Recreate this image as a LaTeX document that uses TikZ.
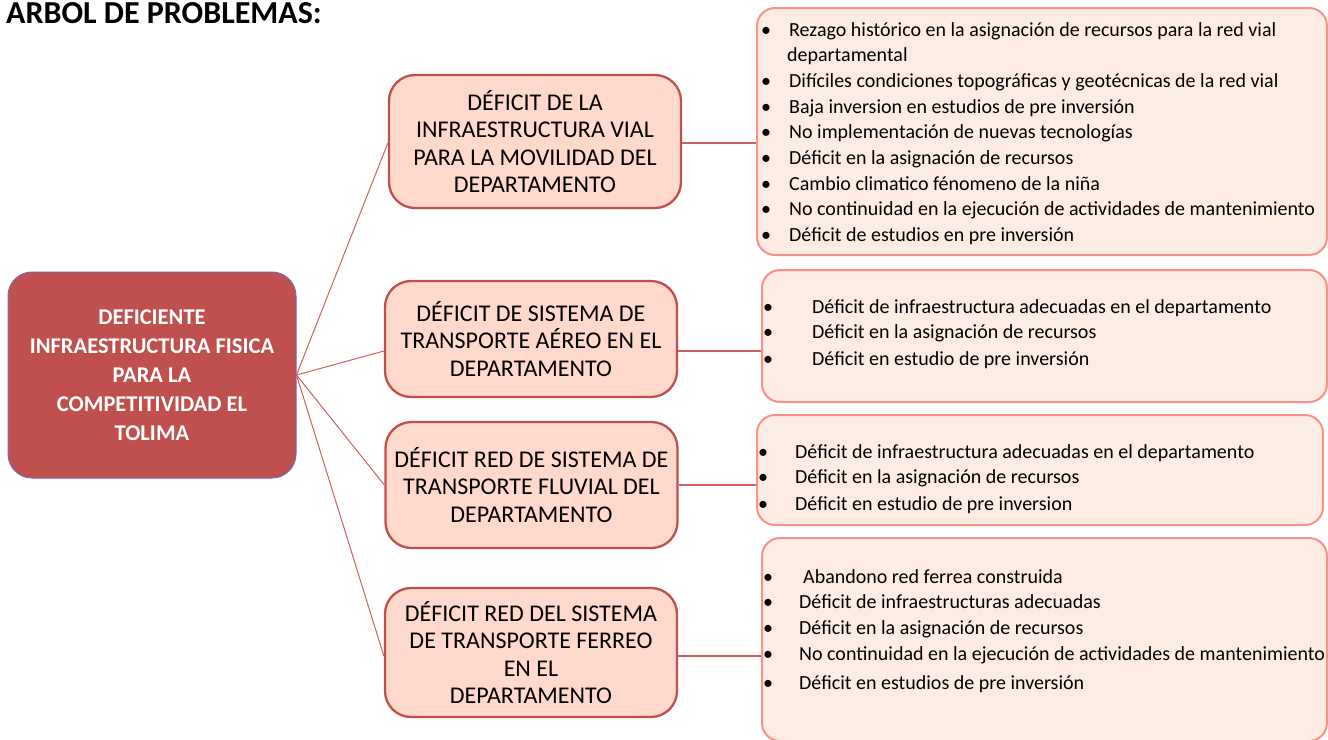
\documentclass[tikz,border=0pt]{standalone}
\usepackage{fontspec}
\setmainfont{Carlito}
\usetikzlibrary{positioning}

\definecolor{rootred}{HTML}{C0504D}
\definecolor{rootedge}{HTML}{7F6AB0}
\definecolor{midfill}{HTML}{FFD9CC}
\definecolor{linkred}{HTML}{D0605E}
\definecolor{causefill}{HTML}{FDECE4}
\definecolor{causeedge}{HTML}{FA918A}

% bullet with a gap of given width
\newcommand{\bul}[2][28pt]{\makebox[#1][l]{\textbullet}#2}

\begin{document}
\begin{tikzpicture}[
  x=1pt, y=-1pt,
  root/.style={rectangle, draw=rootedge, line width=1pt, fill=rootred, rounded corners=24pt,
    minimum width=288pt, minimum height=206pt, align=center, text=white,
    font=\fontsize{22.5}{29}\selectfont\bfseries},
  midbox/.style={rectangle, draw=rootred, line width=2.3pt, fill=midfill, rounded corners=26pt,
    minimum width=292pt, align=center, inner sep=2pt, font=\fontsize{24}{27.5}\selectfont},
  causebox/.style={rectangle, draw=causeedge, line width=2pt, fill=causefill, rounded corners=18pt},
  causelist/.style={align=left, inner sep=0pt, anchor=north west,
    font=\fontsize{20}{25.7}\selectfont},
  fan/.style={draw=linkred, line width=1pt},
  link/.style={draw=linkred, line width=1.4pt}
]
\useasboundingbox (0,0) rectangle (1328,739);

\node[anchor=base west, inner sep=0pt, font=\fontsize{32}{36}\selectfont\bfseries] (title) at (6,23) {ARBOL DE PROBLEMAS:};

% main problem
\node[root] (root) at (152,375) {DEFICIENTE\\INFRAESTRUCTURA FISICA\\PARA LA\\COMPETITIVIDAD EL\\TOLIMA};

% direct causes
\node[midbox, minimum height=133pt] (vial) at (535,141.5) {DÉFICIT DE LA\\INFRAESTRUCTURA VIAL\\PARA LA MOVILIDAD DEL\\DEPARTAMENTO};
\node[midbox, minimum height=116pt] (aereo) at (531,339) {DÉFICIT DE SISTEMA DE\\TRANSPORTE AÉREO EN EL\\DEPARTAMENTO};
\node[midbox, minimum height=126pt] (fluvial) at (531.5,485) {DÉFICIT RED DE SISTEMA DE\\TRANSPORTE FLUVIAL DEL\\DEPARTAMENTO};
\node[midbox, minimum height=129pt] (ferreo) at (531,652.5) {DÉFICIT RED DEL SISTEMA\\DE TRANSPORTE FERREO\\EN EL\\DEPARTAMENTO};

% cause boxes
\node[causebox, minimum width=570pt, minimum height=247pt] (vialbox) at (1042,131.5) {};
\node[causebox, minimum width=565pt, minimum height=132pt] (aereobox) at (1044.5,336) {};
\node[causebox, minimum width=566pt, minimum height=110pt] (fluvialbox) at (1040,470) {};
\node[causebox, minimum width=565pt, minimum height=203pt] (ferreobox) at (1044.5,639.5) {};

\node[causelist] (vialitems) at (761,22) {%
  \bul{Rezago histórico en la asignación de recursos para la red vial}\\
  \hspace*{26pt}departamental\\
  \bul{Difíciles condiciones topográficas y geotécnicas de la red vial}\\
  \bul{Baja inversion en estudios de pre inversión}\\
  \bul{No implementación de nuevas tecnologías}\\
  \bul{Déficit en la asignación de recursos}\\
  \bul{Cambio climatico fénomeno de la niña}\\
  \bul{No continuidad en la ejecución de actividades de mantenimiento}\\
  \bul{Déficit de estudios en pre inversión}};
\node[causelist] (aereoitems) at (763,299) {%
  \bul[49pt]{Déficit de infraestructura adecuadas en el departamento}\\
  \bul[49pt]{Déficit en la asignación de recursos}\\[1.5pt]
  \bul[49pt]{Déficit en estudio de pre inversión}};
\node[causelist] (fluvialitems) at (758,444) {%
  \bul[37pt]{Déficit de infraestructura adecuadas en el departamento}\\
  \bul[37pt]{Déficit en la asignación de recursos}\\[1.5pt]
  \bul[37pt]{Déficit en estudio de pre inversion}};
\node[causelist] (ferreoitems) at (763,569) {%
  \bul[40pt]{Abandono red ferrea construida}\\
  \bul[36pt]{Déficit de infraestructuras adecuadas}\\
  \bul[36pt]{Déficit en la asignación de recursos}\\
  \bul[36pt]{No continuidad en la ejecución de actividades de mantenimiento}\\[4pt]
  \bul[36pt]{Déficit en estudios de pre inversión}};

% connectors (dy: how far below the box centre the line meets it)
\foreach \cause/\causes/\dy in {vial/vialbox/1.5, aereo/aereobox/12, fluvial/fluvialbox/0, ferreo/ferreobox/3.5} {
  \draw[fan] (root.east) -- ([yshift=-\dy pt]\cause.west);
  \draw[link] ([yshift=-\dy pt]\cause.east) coordinate (start) -- (start -| \causes.west);
}
\end{tikzpicture}
\end{document}
